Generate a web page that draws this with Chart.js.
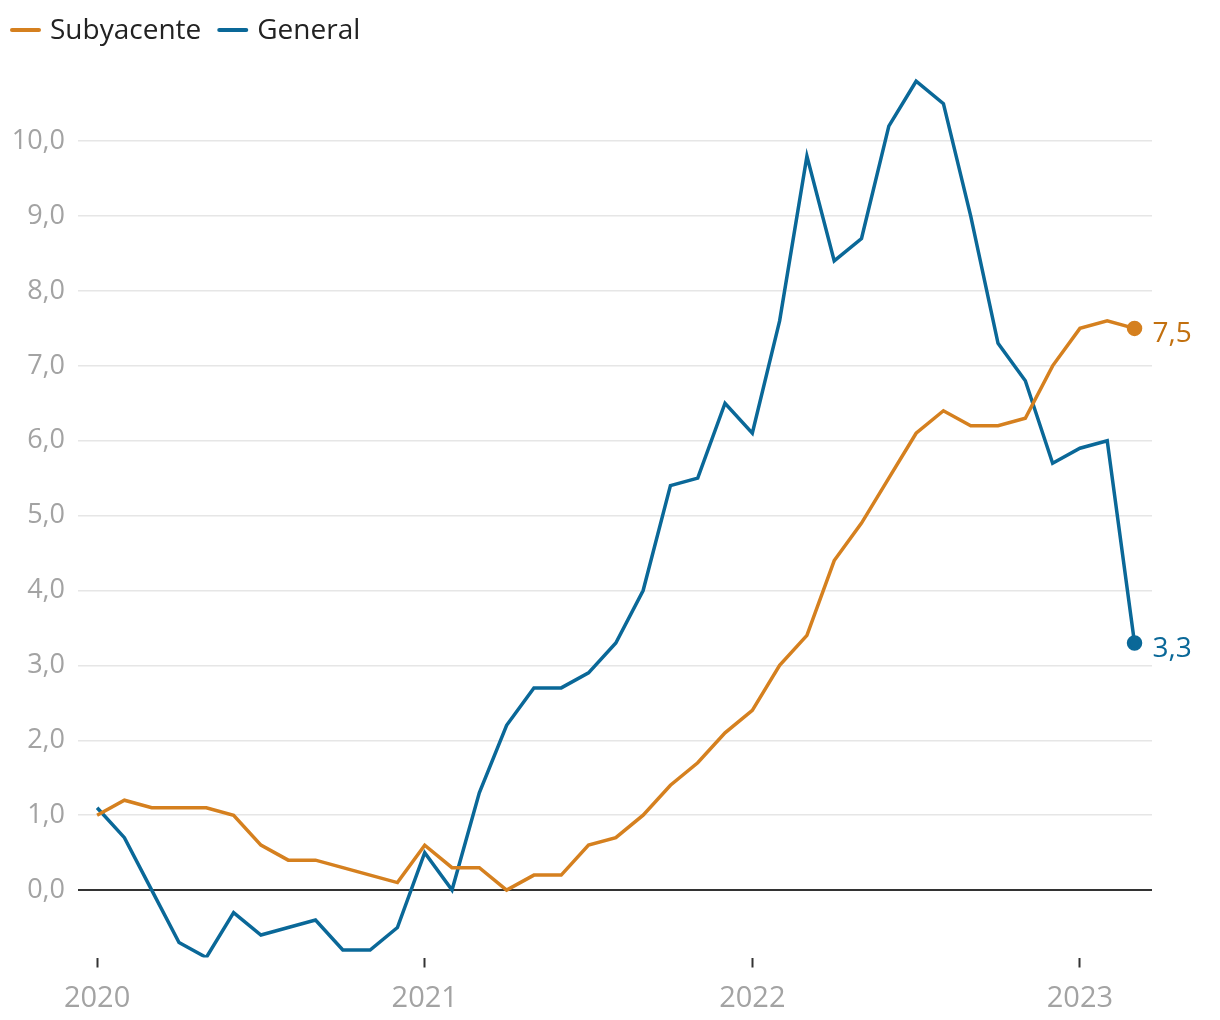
<!DOCTYPE html>
<html lang="es">
<head>
<meta charset="utf-8">
<title>IPC general y subyacente</title>
<script src="https://cdn.jsdelivr.net/npm/chart.js@4/dist/chart.umd.min.js"></script>
<style>
  html, body { margin: 0; padding: 0; background: #fff; }
  #wrap { width: 1220px; height: 1020px; position: relative; }
</style>
</head>
<body>
<div id="wrap"><canvas id="chart"></canvas></div>
<script>
// monthly values, Jan 2020 .. Mar 2023 (index = months since Jan 2020)
const subyacente = [1.0, 1.2, 1.1, 1.1, 1.1, 1.0, 0.6, 0.4, 0.4, 0.3, 0.2, 0.1,
                    0.6, 0.3, 0.3, 0.0, 0.2, 0.2, 0.6, 0.7, 1.0, 1.4, 1.7, 2.1,
                    2.4, 3.0, 3.4, 4.4, 4.9, 5.5, 6.1, 6.4, 6.2, 6.2, 6.3, 7.0,
                    7.5, 7.6, 7.5];
const general = [1.1, 0.7, 0.0, -0.7, -0.9, -0.3, -0.6, -0.5, -0.4, -0.8, -0.8, -0.5,
                 0.5, 0.0, 1.3, 2.2, 2.7, 2.7, 2.9, 3.3, 4.0, 5.4, 5.5, 6.5,
                 6.1, 7.6, 9.8, 8.4, 8.7, 10.2, 10.8, 10.5, 9.0, 7.3, 6.8, 5.7,
                 5.9, 6.0, 3.3];
const yearTicks = [0, 12, 24, 36];
const yearLabels = ['2020', '2021', '2022', '2023'];
const yTicks = [0, 1, 2, 3, 4, 5, 6, 7, 8, 9, 10];

const ORANGE = '#d5801f';
const ORANGE_TXT = '#c2700f';
const BLUE = '#0a6898';
const FONT = '"Open Sans", sans-serif';

const fmt = v => v.toFixed(1).replace('.', ',');
const toPoints = arr => arr.map((v, i) => ({ x: i, y: v }));
const lastIdx = general.length - 1;

// legend drawn top-left: short line + series name
const topLegend = {
    id: 'topLegend',
    afterDraw(chart) {
        const ctx = chart.ctx;
        ctx.save();
        ctx.font = '28px ' + FONT;
        ctx.textBaseline = 'middle';
        ctx.textAlign = 'left';
        let x = 10;
        const y = 30;
        chart.data.datasets.forEach(ds => {
            ctx.strokeStyle = ds.borderColor;
            ctx.lineWidth = 4;
            ctx.lineCap = 'round';
            ctx.beginPath();
            ctx.moveTo(x + 2, y);
            ctx.lineTo(x + 29, y);
            ctx.stroke();
            x += 40;
            ctx.fillStyle = '#222';
            ctx.fillText(ds.label, x, y + 1);
            x += ctx.measureText(ds.label).width + 16;
        });
        ctx.restore();
    }
};

// value labels at the end of each line
const endLabels = {
    id: 'endLabels',
    afterDatasetsDraw(chart) {
        const ctx = chart.ctx;
        ctx.save();
        ctx.font = '28px ' + FONT;
        ctx.textBaseline = 'middle';
        ctx.textAlign = 'left';
        chart.data.datasets.forEach((ds, i) => {
            const meta = chart.getDatasetMeta(i);
            const pt = meta.data[meta.data.length - 1];
            const val = ds.data[ds.data.length - 1].y;
            ctx.fillStyle = ds.labelColor;
            ctx.fillText(fmt(val), pt.x + 18, pt.y + 6);
        });
        ctx.restore();
    }
};

const ctx = document.getElementById('chart').getContext('2d');
new Chart(ctx, {
    type: 'line',
    data: {
        datasets: [{
            label: 'Subyacente',
            data: toPoints(subyacente),
            borderColor: ORANGE,
            backgroundColor: ORANGE,
            labelColor: ORANGE_TXT,
            borderWidth: 3.5,
            tension: 0,
            pointRadius: c => c.dataIndex === lastIdx ? 6 : 0,
            pointHoverRadius: 0
        }, {
            label: 'General',
            data: toPoints(general),
            borderColor: BLUE,
            backgroundColor: BLUE,
            labelColor: BLUE,
            borderWidth: 3.5,
            tension: 0,
            pointRadius: c => c.dataIndex === lastIdx ? 6 : 0,
            pointHoverRadius: 0
        }]
    },
    options: {
        responsive: true,
        maintainAspectRatio: false,
        animation: false,
        layout: { padding: { left: 0, right: 68, top: 61, bottom: 0 } },
        plugins: {
            tooltip: { enabled: false },
            legend: { display: false }
        },
        scales: {
            x: {
                type: 'linear',
                min: -0.7,
                max: 38.64,
                afterFit: axis => { axis.height = 62.5; },
                afterBuildTicks: axis => { axis.ticks = yearTicks.map(v => ({ value: v })); },
                ticks: {
                    callback: v => yearLabels[yearTicks.indexOf(v)],
                    color: '#a3a3a3',
                    font: { family: FONT, size: 29 },
                    padding: 14,
                    maxRotation: 0
                },
                grid: {
                    drawOnChartArea: false,
                    drawTicks: true,
                    tickLength: 10,
                    tickColor: '#333',
                    tickWidth: 2
                },
                border: { display: false }
            },
            y: {
                min: -0.9,
                max: 11.07,
                afterFit: axis => { axis.width = 78; },
                afterBuildTicks: axis => { axis.ticks = yTicks.map(v => ({ value: v })); },
                ticks: {
                    callback: v => fmt(v),
                    color: '#a3a3a3',
                    font: { family: FONT, size: 27 },
                    padding: 13
                },
                grid: {
                    drawTicks: false,
                    color: c => c.tick && c.tick.value === 0 ? '#333' : '#e6e6e6',
                    lineWidth: c => c.tick && c.tick.value === 0 ? 2 : 1.5
                },
                border: { display: false }
            }
        }
    },
    plugins: [endLabels, topLegend]
});
</script>
</body>
</html>
